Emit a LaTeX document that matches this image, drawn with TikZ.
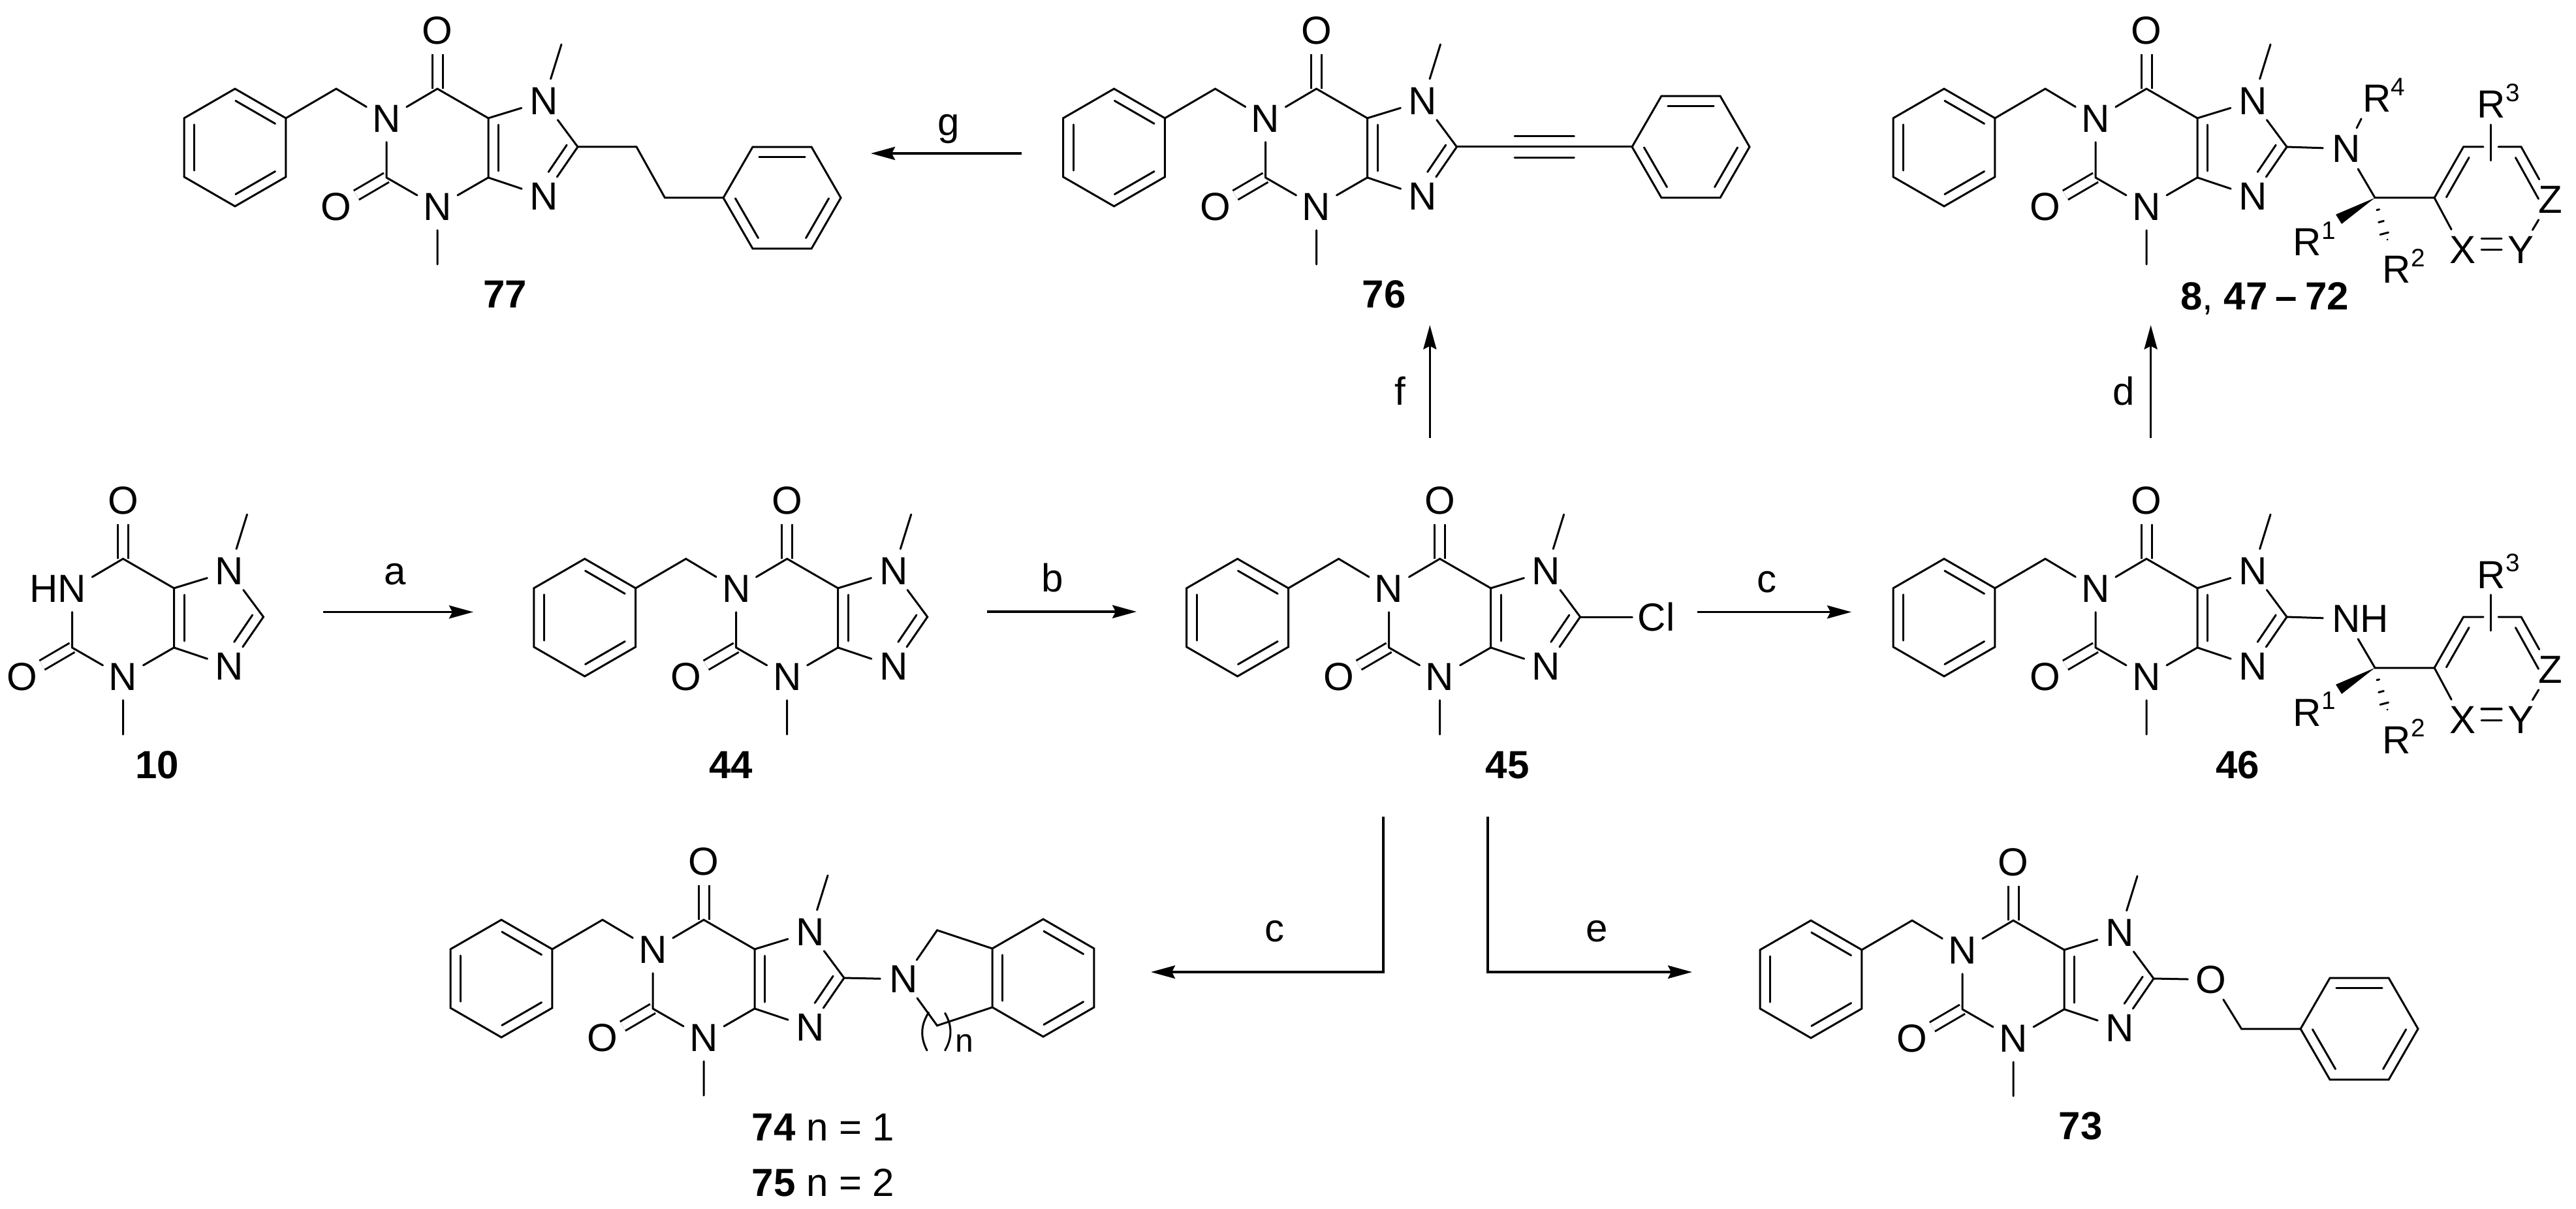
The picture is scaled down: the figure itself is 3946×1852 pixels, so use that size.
\documentclass[tikz,border=0pt]{standalone}
\usepackage{fontspec}
\setmainfont{Liberation Sans}
\usetikzlibrary{arrows.meta,calc,positioning}

\newcommand{\molfont}{\fontsize{17.07}{20}\selectfont}
\newcommand{\rsub}[1]{R\raisebox{.25cm}{\fontsize{11}{11}\selectfont #1}}

\tikzset{
  bond/.style={line width=.03cm,line cap=round},
  dblbond/.style={line width=.03cm,double,double distance=.13cm},
  atom/.style={circle,inner sep=0pt,minimum size=.7cm,font=\molfont},
  rgroup/.style={inner sep=0pt,anchor=base west,font=\molfont},
  cpd/.style={inner sep=0pt,font=\molfont\bfseries},
  cond/.style={inner sep=0pt,font=\molfont},
  rxn/.style={line width=.035cm,-{Stealth[length=.37cm,width=.2cm,inset=.05cm]}}
}

\newcommand{\inbond}[3][270]{\draw[bond] ($(#2)!.11!(#3)!.155cm!#1:(#3)$) -- ($(#3)!.11!(#2)!.155cm!-#1:(#2)$);}

\newcommand{\benzene}[3]{
  \foreach \k in {1,...,6} \coordinate (#3\k) at ($(#1)+({(\k-1)*60+#2}:90)$);
  \draw[bond] (#31) -- (#32) -- (#33) -- (#34) -- (#35) -- (#36) -- cycle;
  \inbond{#31}{#32} \inbond{#33}{#34} \inbond{#35}{#36}
}

\newcommand{\xcore}[1]{
  \coordinate (-c6) at (0,0);
  \coordinate (-c5) at (78,45);
  \coordinate (-c4) at (78,136);
  \coordinate (-c2) at (-78,136);
  \coordinate (-c8) at (215,89);
  \coordinate (-k9) at (179,142);
  \coordinate (-me7) at (190,-68);
  \coordinate (-me3) at (0,269);
  \node[atom] (-n1) at (-78,46) {#1};
  \node[atom] (-n3) at (0,181) {N};
  \node[atom] (-n7) at (163,19) {N};
  \node[atom] (-n9) at (163,164.5) {N};
  \node[atom] (-o6) at (0,-89) {O};
  \node[atom] (-o2) at (-155,181) {O};
  \draw[dblbond] (-c6) -- (-o6);
  \draw[dblbond] (-c2) -- (-o2);
  \draw[bond] (-n1) -- (-c6) -- (-c5) -- (-c4) -- (-n3);
  \draw[bond] (-n1) -- (-c2) -- (-n3) -- (-me3);
  \draw[bond] (-c5) -- (-n7) -- (-c8) -- (-n9) -- (-c4);
  \draw[bond] (-n7) -- (-me7);
  \inbond[90]{-c5}{-c4}
  \inbond{-c8}{-k9}
}

\newcommand{\xbenzyl}{
  \coordinate (-ch2) at (-155,0);
  \coordinate (-ph) at (-310,90);
  \benzene{-ph}{30}{-v}
  \draw[bond] (-n1) -- (-ch2) -- (-v6);
}

\newcommand{\xtail}[1]{
  \node[atom] (-n8) at (306,92) {#1};
  \coordinate (-cs) at (350,167);
  \coordinate (-w1) at (290,192.6);
  \coordinate (-w2) at (299,207);
  \coordinate (-hs) at (369,240);
  \coordinate (-ra) at (441,167);
  \coordinate (-rb) at (485.5,89);
  \coordinate (-rc) at (574,89);
  \coordinate (-rg1) at (516,89);
  \coordinate (-rg2) at (539,89);
  \coordinate (-lo1) at (527.6,55);
  \coordinate (-lo2) at (527.6,110);
  \node[atom] (-x) at (484,247) {X};
  \node[atom] (-y) at (573,247) {Y};
  \node[atom] (-z) at (619,170) {Z};
  \node[rgroup] (-r1) at (224,256) {\rsub{1}};
  \node[rgroup] (-r2) at (361,298) {\rsub{2}};
  \node[rgroup] (-r3) at (506,45) {\rsub{3}};
  \draw[bond] (-c8) -- (-n8) -- (-cs) -- (-ra) -- (-rb) -- (-rg1);
  \draw[bond] (-rg2) -- (-rc) -- (-z) -- (-y);
  \draw[bond] (-ra) -- (-x);
  \draw[bond] (-lo1) -- (-lo2);
  \inbond{-ra}{-rb}
  \inbond{-rc}{-z}
  \fill (-cs) -- (-w1) -- (-w2) -- cycle;
  \foreach \t/\w in {.25/.02,.5/.04,.75/.065,1/.09}
    \draw[bond] ($(-cs)!\t!(-hs)!\w cm!90:(-hs)$) -- ($(-cs)!\t!(-hs)!\w cm!-90:(-hs)$);
  \draw[bond,shorten >=.29cm,shorten <=.29cm] (-x.center) -- (-y.center);
  \draw[bond,shorten >=.29cm,shorten <=.29cm] ([yshift=.17cm]-x.center) -- ([yshift=.17cm]-y.center);
}

\tikzset{
  pics/hxan/.style={code={\xcore{\llap{H}N}}},
  pics/xan/.style={code={\xcore{N}\xbenzyl}},
  pics/amine/.style={code={\xcore{N}\xbenzyl\xtail{#1}}}
}

\begin{document}
\begin{tikzpicture}[x=.01cm,y=-.01cm]
  \useasboundingbox (0,0) rectangle (3946,1852);

  % middle row
  \pic (m10) at (188.5,856) {hxan};
  \pic (m44) at (1205.7,856) {xan};
  \pic (m45) at (2205.6,856) {xan};
  \pic (m46) at (3288,856) {amine={N\rlap{H}}};
  \node[atom] (cl) at (2537,945) {Cl};
  \draw[bond] (m45-c8) -- (cl);

  % top row
  \pic (m77) at (670,136) {xan};
  \coordinate (e77a) at (975,225);
  \coordinate (e77b) at (1018.5,303);
  \coordinate (p77) at (1198,303);
  \benzene{p77}{0}{a77v}
  \draw[bond] (m77-c8) -- (e77a) -- (e77b) -- (a77v4);

  \pic (m76) at (2016.5,136) {xan};
  \coordinate (p76) at (2590,225);
  \benzene{p76}{0}{a76v}
  \draw[bond] (m76-c8) -- (a76v4);
  \draw[bond] ($(m76-c8)!.33!(a76v4)!.16cm!90:(a76v4)$) -- ($(a76v4)!.33!(m76-c8)!.16cm!-90:(m76-c8)$);
  \draw[bond] ($(m76-c8)!.33!(a76v4)!.16cm!-90:(a76v4)$) -- ($(a76v4)!.33!(m76-c8)!.16cm!90:(m76-c8)$);

  \pic (m8) at (3288,136) {amine=N};
  \node[rgroup] (r4) at ($(m8-c6)+(330.6,36)$) {\rsub{4}};
  \coordinate (b4) at ($(m8-c6)+(329,46)$);
  \draw[bond] (m8-n8) -- (b4);

  % bottom row
  \pic (m74) at (1078,1409) {xan};
  \node[atom] (n74) at (1384,1500) {N};
  \coordinate (k74a) at (1435.5,1425);
  \coordinate (k74b) at (1435.5,1571);
  \coordinate (p74) at (1598,1498);
  \benzene{p74}{30}{a74v}
  \draw[bond] (m74-c8) -- (n74);
  \draw[bond] (n74) -- (k74a) -- (a74v4);
  \draw[bond] (n74) -- (k74b) -- (a74v3);
  \coordinate (pa1) at (1422.5,1551);
  \coordinate (pa2) at (1420,1609);
  \coordinate (pb1) at (1447.6,1552);
  \coordinate (pb2) at (1447.6,1609);
  \draw[bond] (pa1) to[bend right=30] (pa2);
  \draw[bond] (pb1) to[bend left=30] (pb2);
  \node[inner sep=0pt,anchor=base west,font=\fontsize{14.2}{16}\selectfont] (nsub) at (1463,1611) {n};

  \pic (m73) at (3084,1410) {xan};
  \node[atom] (o73) at (3387,1500.7) {O};
  \coordinate (j73) at (3433.5,1576);
  \coordinate (p73) at (3614,1576);
  \benzene{p73}{0}{a73v}
  \draw[bond] (m73-c8) -- (o73) -- (j73) -- (a73v4);

  % compound numbers
  \node[cpd] (l10) at (241,1171.5) {10};
  \node[cpd] (l44) at (1119.6,1171.5) {44};
  \node[cpd] (l45) at (2309,1172.5) {45};
  \node[cpd] (l46) at (3427.6,1172) {46};
  \node[cpd] (l76) at (2120,451) {76};
  \node[cpd] (l77) at (773.6,451) {77};
  \node[cpd] (l73) at (3187,1724.5) {73};
  \node[cond,anchor=base] (l8) at (3469,474) {\textbf{8}, \textbf{47}\hspace{.12cm}\textbf{--}\hspace{.12cm}\textbf{72}};
  \node[cond,anchor=base west] (l74) at (1151,1747) {\textbf{74} n = 1};
  \node[cond,anchor=base west] (l75) at (1151,1832) {\textbf{75} n = 2};

  % reactions
  \coordinate (a0) at (495,937.5);   \coordinate (a1) at (725,937.5);
  \coordinate (b0) at (1511.6,937);  \coordinate (b1) at (1741,937);
  \coordinate (c0) at (2600,937.5);  \coordinate (c1) at (2836,937.5);
  \coordinate (f0) at (2190.3,671);  \coordinate (f1) at (2190.3,498);
  \coordinate (d0) at (3294.6,671);  \coordinate (d1) at (3294.6,498);
  \coordinate (g0) at (1565,235);    \coordinate (g1) at (1334,235);
  \coordinate (h0) at (2119,1250.6); \coordinate (h1) at (1763,1489);
  \coordinate (i0) at (2279,1250.6); \coordinate (i1) at (2592,1489);
  \path[rxn]
    (a0) edge node (la) [cond,pos=.48,above=.4cm] {a} (a1)
    (b0) edge node (lb) [cond,pos=.44,above=.285cm] {b} (b1)
    (c0) edge node (lc) [cond,pos=.45,above=.28cm] {c} (c1)
    (f0) edge (f1)
    (d0) edge (d1)
    (g0) edge (g1);
  \draw[rxn] (h0) |- (h1);
  \draw[rxn] (i0) |- (i1);
  \node[cond,anchor=base] (lg) at (1452.7,208) {g};
  \node[cond,anchor=base] (lf) at (2145,620) {f};
  \node[cond,anchor=base] (ld) at (3253,620) {d};
  \node[cond] (lc2) at (1952.5,1427) {c};
  \node[cond] (le) at (2446,1427) {e};
\end{tikzpicture}
\end{document}
